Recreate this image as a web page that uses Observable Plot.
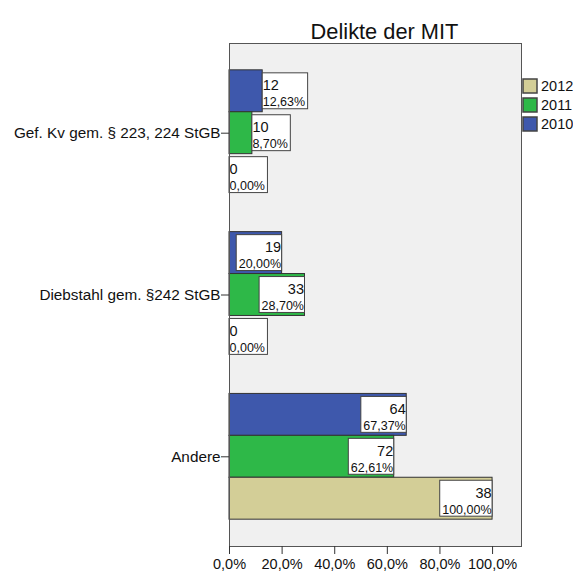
<!DOCTYPE html>
<html><head><meta charset="utf-8">
<script src="https://cdn.jsdelivr.net/npm/d3@7"></script>
<script src="https://cdn.jsdelivr.net/npm/@observablehq/plot@0.6"></script>
<style>
body{margin:0;background:#fff;font-family:"Liberation Sans",Arial,sans-serif;}
#wrap{position:relative;width:576px;height:574px;}
#leg{position:absolute;left:523px;top:78px;}
#leg .lg-swatch{padding-bottom:3px !important;margin:0 !important;}
#leg .lg-swatch svg{margin-right:4px !important;overflow:visible;}
#leg .lg-swatch svg rect{stroke:#444;stroke-width:1.5px;}
</style></head><body><div id="wrap"><div id="leg"></div></div>
<script>
const categories = ["Gef. Kv gem. § 223, 224 StGB", "Diebstahl gem. §242 StGB", "Andere"];
const years = ["2010", "2011", "2012"];
const counts2010 = [12, 19, 64];
const counts2011 = [10, 33, 72];
const counts2012 = [0, 0, 38];
const pct2010 = [12.63, 20.00, 67.37];
const pct2011 = [8.70, 28.70, 62.61];
const pct2012 = [0.00, 0.00, 100.00];
const xTicks = [0, 20, 40, 60, 80, 100];
const yearColors = ["#3E58AC", "#2EB848", "#D3CE97"];
const legendOrder = ["2012", "2011", "2010"];
const title = "Delikte der MIT";

const W = 576, H = 574, mL = 229, mR = 55, mT = 43, mB = 28;
const xMax = 111, yMax = 12, OUTER = 0.64, GAP = 0.86;
const kx = (W - mL - mR) / xMax;
const FONT = "'Liberation Sans', Arial, sans-serif";
const PCT_FS = 12.5;

const ctx = document.createElement("canvas").getContext("2d");
ctx.font = PCT_FS + "px 'Liberation Sans'";
const fmtPct = v => v.toFixed(2).replace(".", ",") + "%";

const countsBy = [counts2010, counts2011, counts2012];
const pctBy = [pct2010, pct2011, pct2012];
const rows = [];
categories.forEach((cat, g) => {
  years.forEach((year, k) => {
    const pct = pctBy[k][g], count = countsBy[k][g];
    const y1 = OUTER + g * (3 + GAP) + k;
    const label = fmtPct(pct);
    const boxPx = ctx.measureText(label).width + 3;
    const boxU = boxPx / kx;
    const inside = pct * kx >= boxPx;
    rows.push({cat, year, pct, count, y1, y2: y1 + 1, yc: y1 + 0.5, label, inside,
      bx1: inside ? pct - boxU : pct, bx2: inside ? pct : pct + boxU});
  });
});
const centers = categories.map((c, g) => OUTER + g * (3 + GAP) + 1.5);
const labelMap = new Map(centers.map((c, g) => [c, categories[g]]));

const inside = rows.filter(d => d.inside), outside = rows.filter(d => !d.inside);

const chart = Plot.plot({
  width: W, height: H, marginLeft: mL, marginRight: mR, marginTop: mT, marginBottom: mB,
  style: {fontFamily: FONT, color: "#111", background: "transparent"},
  x: {domain: [0, xMax], label: null},
  y: {domain: [0, yMax], reverse: true, label: null},
  color: {domain: years, range: yearColors},
  marks: [
    Plot.frame({fill: "#f0f0f0"}),
    Plot.rect(rows.filter(d => d.pct > 0), {x1: 0, x2: "pct", y1: "y1", y2: "y2", fill: "year", stroke: "#333", strokeWidth: 1}),
    Plot.rect(rows, {x1: "bx1", x2: "bx2", y1: "y1", y2: "y2", insetTop: 3, insetBottom: 3, fill: "white", stroke: "#444", strokeWidth: 1}),
    Plot.text(inside, {x: "pct", y: "yc", text: d => String(d.count), textAnchor: "end", dx: -1, dy: -5.5, fontSize: 14.5, fill: "#111"}),
    Plot.text(inside, {x: "pct", y: "yc", text: "label", textAnchor: "end", dx: -1, dy: 11, fontSize: PCT_FS, fill: "#111"}),
    Plot.text(outside, {x: "pct", y: "yc", text: d => String(d.count), textAnchor: "start", dx: 0, dy: -5.5, fontSize: 14.5, fill: "#111"}),
    Plot.text(outside, {x: "pct", y: "yc", text: "label", textAnchor: "start", dx: 0, dy: 11, fontSize: PCT_FS, fill: "#111"}),
    Plot.frame({stroke: "#555"}),
    Plot.axisX(xTicks, {tickSize: 8, tickPadding: 4, fontSize: 14.5, stroke: "#333", tickFormat: d => d.toFixed(1).replace(".", ",") + "%"}),
    Plot.axisY(centers, {tickSize: 8, tickPadding: 1, fontSize: 15.3, stroke: "#333", tickFormat: d => labelMap.get(d)}),
    Plot.text([title], {frameAnchor: "top", dy: -20, dx: 9, fontSize: 21.8, fill: "#111"})
  ]
});
document.getElementById("wrap").prepend(chart);

const leg = Plot.legend({
  color: {type: "ordinal", domain: legendOrder, range: legendOrder.map(y => yearColors[years.indexOf(y)])},
  columns: 1, swatchSize: 14, className: "lg",
  style: {fontFamily: FONT, fontSize: "14.5px", color: "#111"}
});
document.getElementById("leg").append(leg);
</script></body></html>
